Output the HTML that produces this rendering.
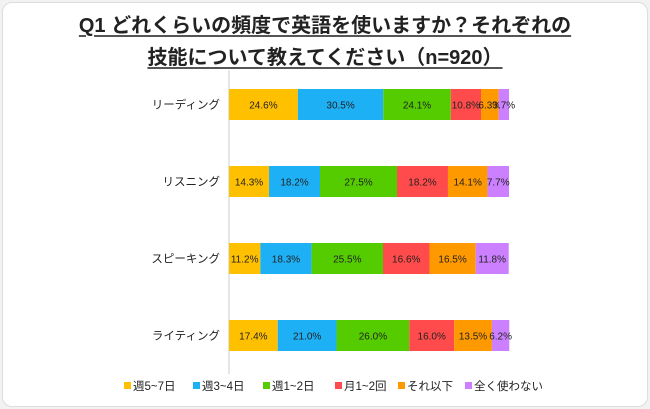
<!DOCTYPE html>
<html><head><meta charset="utf-8"><style>
body{margin:0;background:#f2f2f2;width:650px;height:409px;overflow:hidden;font-family:"Liberation Sans","Noto Sans CJK JP",sans-serif}
#card{position:absolute;left:2px;top:2px;width:644px;height:403px;background:#fff;border:1px solid #ddd;border-radius:10px}
.t{position:absolute;left:0;width:650px;text-align:center;font-size:20px;color:#222;font-weight:bold;line-height:24px}
.t span{text-decoration:underline;text-decoration-thickness:2px;text-underline-offset:3px;text-decoration-color:#555}
</style></head><body>
<div id="card"></div>
<div class="t" style="top:14px"><span>Q1 どれくらいの頻度で英語を使いますか？それぞれの</span></div>
<div class="t" style="top:46px"><span>技能について教えてください（n=920）</span></div>
<svg id="c" width="650" height="409" style="position:absolute;left:0;top:0"></svg>
<script>
const categories=["リーディング","リスニング","スピーキング","ライティング"];
const seriesNames=["週5~7日","週3~4日","週1~2日","月1~2回","それ以下","全く使わない"];
const colors=["#ffc000","#1eb0f5","#55cc00","#ff4b4b","#ff9900","#cc80ff"];
const s1=[24.6,14.3,11.2,17.4];
const s2=[30.5,18.2,18.3,21.0];
const s3=[24.1,27.5,25.5,26.0];
const s4=[10.8,18.2,16.6,16.0];
const s5=[6.3,14.1,16.5,13.5];
const s6=[3.7,7.7,11.8,6.2];
const series=[s1,s2,s3,s4,s5,s6];
const NS="http://www.w3.org/2000/svg";
const svg=document.getElementById('c');
const x0=229,scale=2.8,top0=66,band=77,bh=31;
const xs=v=>x0+v*scale;
const yc=i=>top0+band*i+band/2;
function mk(t,a){const e=document.createElementNS(NS,t);for(const k in a)e.setAttribute(k,a[k]);svg.appendChild(e);return e;}
const ax=mk('line',{x1:x0,x2:x0,y1:70,y2:374,stroke:'#ccc','stroke-width':1});


categories.forEach((c,i)=>{
  const lt=mk('text',{x:220,y:yc(i)+4,'text-anchor':'end','font-size':11.5,fill:'#222'});lt.textContent=c;
  
  
  let acc=0;
  series.forEach((s,j)=>{
    const v=s[i];
    const r=mk('rect',{x:xs(acc),y:yc(i)-bh/2,width:v*scale,height:bh,fill:colors[j]});
    
    
    const tx=mk('text',{x:xs(acc+v/2),y:yc(i)+4,'text-anchor':'middle','font-size':10,fill:'#222'});
    tx.textContent=v.toFixed(1)+'%';
    
    
    acc+=v;
  });
});
const lx=[124,193,263,335,398,465];
seriesNames.forEach((n,j)=>{
  const r=mk('rect',{x:lx[j],y:382,width:7,height:7,fill:colors[j]});
  
  
  const t=mk('text',{x:lx[j]+9,y:390,'font-size':11.5,fill:'#222'});t.textContent=n;
  
  
});
</script>
</body></html>
